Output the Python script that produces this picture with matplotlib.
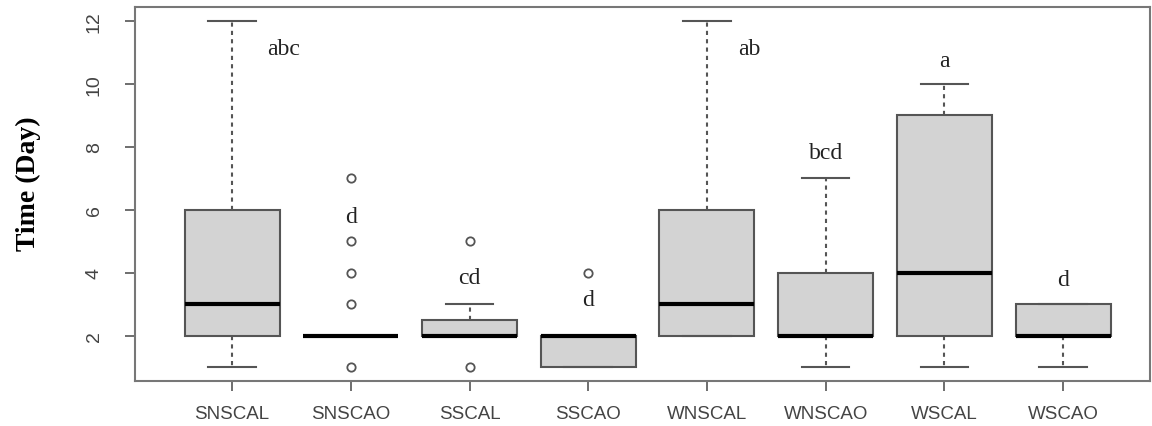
import matplotlib
matplotlib.use("Agg")
import matplotlib.pyplot as plt

# groups and box statistics
groups = ["SNSCAL", "SNSCAO", "SSCAL", "SSCAO", "WNSCAL", "WNSCAO", "WSCAL", "WSCAO"]
whis_lo = [1, 2, 2, 1, 2, 1, 1, 1]
q1 = [2, 2, 2, 1, 2, 2, 2, 2]
medians = [3, 2, 2, 2, 3, 2, 4, 2]
q3 = [6, 2, 2.5, 2, 6, 4, 9, 3]
whis_hi = [12, 2, 3, 2, 12, 7, 10, 3]
outliers = [[], [1, 3, 4, 5, 7], [1, 5], [4], [], [], [], []]

# significance letters and where they sit
letters = ["abc", "d", "cd", "d", "ab", "bcd", "a", "d"]
letter_x = [1.43, 2, 3, 4, 5.36, 6, 7, 8]
letter_y = [11.13, 5.8, 3.84, 3.14, 11.13, 7.83, 10.74, 3.78]

stats = []
for i, name in enumerate(groups):
    stats.append({
        "label": name, "whislo": whis_lo[i], "q1": q1[i], "med": medians[i],
        "q3": q3[i], "whishi": whis_hi[i], "fliers": outliers[i],
    })

edge = "#555555"
fig = plt.figure(figsize=(11.52, 4.27), dpi=100)
ax = fig.add_axes([0.117, 0.105, 0.881, 0.876])

ax.bxp(stats, positions=range(1, 9), widths=0.8, capwidths=0.4,
       patch_artist=True, showfliers=True,
       boxprops=dict(facecolor="#d3d3d3", edgecolor=edge, linewidth=1.5),
       medianprops=dict(color="black", linewidth=3, solid_capstyle="butt"),
       whiskerprops=dict(color=edge, linestyle=(0, (2, 2)), linewidth=1.5),
       capprops=dict(color=edge, linewidth=1.5),
       flierprops=dict(marker="o", markerfacecolor="none", markeredgecolor=edge,
                       markersize=6, markeredgewidth=1.3))

for x, y, t in zip(letter_x, letter_y, letters):
    ax.text(x, y, t, ha="center", va="center", fontsize=17,
            family="Liberation Serif", color="#222222")

ax.set_xlim(0.18, 8.73)
ax.set_ylim(0.56, 12.44)
ax.set_yticks([2, 4, 6, 8, 10, 12])
ax.set_yticklabels(["2", "4", "6", "8", "10", "12"], rotation=90, va="center",
                   family="Liberation Sans", fontsize=14, color="#444444")
ax.set_xticks(range(1, 9))
ax.set_xticklabels(groups, family="Liberation Sans", fontsize=13.5, color="#444444")
ax.tick_params(axis="both", length=7, width=1.2, color=edge)
ax.tick_params(axis="x", pad=10)
ax.tick_params(axis="y", pad=16)
for s in ax.spines.values():
    s.set_color("#777777")
    s.set_linewidth(1.5)

ax.set_ylabel("Time (Day)", family="Liberation Serif", fontweight="bold",
              fontsize=20)
ax.yaxis.set_label_coords(-0.092, 0.53)

fig.savefig("out.png", dpi=100)
